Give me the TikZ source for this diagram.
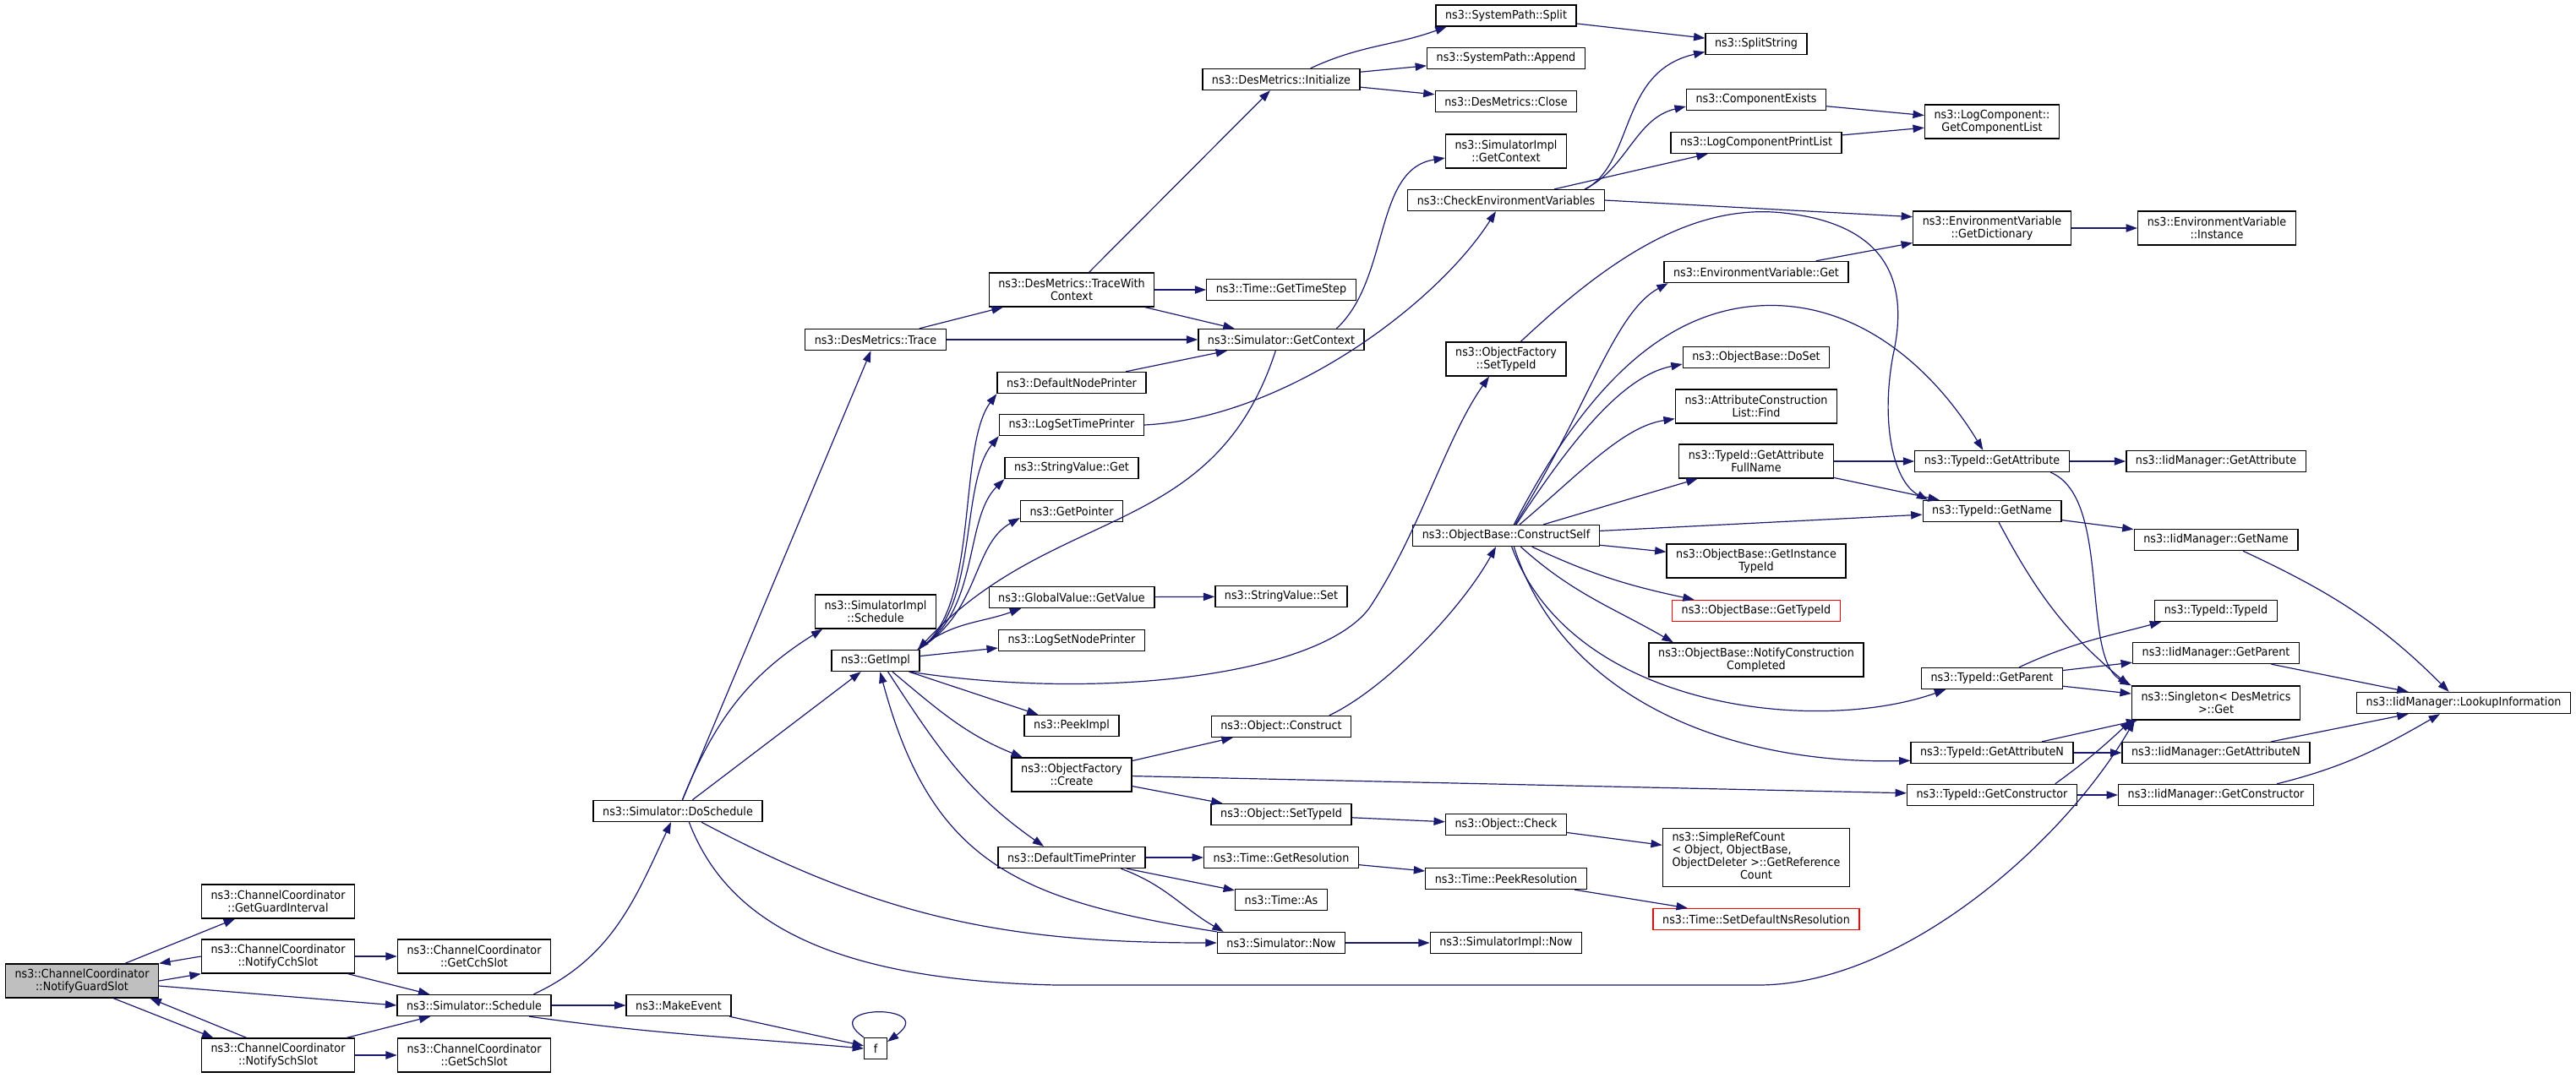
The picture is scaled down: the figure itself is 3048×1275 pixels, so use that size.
\documentclass[tikz,border=0pt]{standalone}
\usepackage{fontspec}
\setmainfont{DejaVu Sans}[FakeStretch=0.92]
\usepackage{tikz}
\usetikzlibrary{arrows.meta}
\definecolor{edgeblue}{RGB}{25,25,112}
\definecolor{rootgray}{RGB}{191,191,191}
\tikzstyle{fn} = [draw=black, line width=1pt, fill=white, inner xsep=8.3pt, inner ysep=0pt, minimum height=18.75pt, align=center, font=\fontsize{10.4}{11.3}\selectfont]
\tikzstyle{two} = [minimum height=30pt]
\tikzstyle{root} = [fill=rootgray]
\tikzstyle{trunc} = [draw=red]
\tikzstyle{call} = [draw=edgeblue, line width=0.9pt, -{Triangle[length=10pt,width=7pt]}]

\begin{document}
\begin{tikzpicture}[x=0.75pt, y=-0.75pt]
	\useasboundingbox (0,0) rectangle (3048,1275);
	\node[fn, two, root] (guard) at (97,1161) {ns3::ChannelCoordinator\\::NotifyGuardSlot};
	\node[fn, two] (guardint) at (329,1067) {ns3::ChannelCoordinator\\::GetGuardInterval};
	\node[fn, two] (cch) at (329,1132) {ns3::ChannelCoordinator\\::NotifyCchSlot};
	\node[fn, two] (sch) at (329,1249) {ns3::ChannelCoordinator\\::NotifySchSlot};
	\node[fn, two] (getcch) at (561,1132) {ns3::ChannelCoordinator\\::GetCchSlot};
	\node[fn, two] (getsch) at (561,1249) {ns3::ChannelCoordinator\\::GetSchSlot};
	\node[fn] (sched) at (561,1190) {ns3::Simulator::Schedule};
	\node[fn] (mkevent) at (803,1190) {ns3::MakeEvent};
	\node[fn] (f) at (1036,1241) {f};
	\node[fn] (dosched) at (802,960) {ns3::Simulator::DoSchedule};
	\node[fn] (trace) at (1036,402) {ns3::DesMetrics::Trace};
	\node[fn, two] (implsched) at (1036,724) {ns3::SimulatorImpl\\::Schedule};
	\node[fn] (getimpl) at (1036,782) {ns3::GetImpl};
	\node[fn, two] (tracectx) at (1268,343) {ns3::DesMetrics::TraceWith\\Context};
	\node[fn] (nodeprn) at (1268,453) {ns3::DefaultNodePrinter};
	\node[fn] (settimeprn) at (1268,503) {ns3::LogSetTimePrinter};
	\node[fn] (strget) at (1268,554) {ns3::StringValue::Get};
	\node[fn] (getptr) at (1268,605) {ns3::GetPointer};
	\node[fn] (getvalue) at (1268,707) {ns3::GlobalValue::GetValue};
	\node[fn] (setnodeprn) at (1268,758) {ns3::LogSetNodePrinter};
	\node[fn] (peekimpl) at (1268,859) {ns3::PeekImpl};
	\node[fn, two] (create) at (1268,917) {ns3::ObjectFactory\\::Create};
	\node[fn] (timeprn) at (1268,1015) {ns3::DefaultTimePrinter};
	\node[fn] (init) at (1516,94) {ns3::DesMetrics::Initialize};
	\node[fn] (timestep) at (1516,343) {ns3::Time::GetTimeStep};
	\node[fn] (simctx) at (1516,402) {ns3::Simulator::GetContext};
	\node[fn] (strset) at (1516,706) {ns3::StringValue::Set};
	\node[fn] (construct) at (1516,860) {ns3::Object::Construct};
	\node[fn] (objsettid) at (1516,964) {ns3::Object::SetTypeId};
	\node[fn] (getres) at (1516,1015) {ns3::Time::GetResolution};
	\node[fn] (timeas) at (1516,1065) {ns3::Time::As};
	\node[fn] (now) at (1516,1116) {ns3::Simulator::Now};
	\node[fn] (split) at (1782,18.5) {ns3::SystemPath::Split};
	\node[fn] (append) at (1782,69) {ns3::SystemPath::Append};
	\node[fn] (close) at (1782,120) {ns3::DesMetrics::Close};
	\node[fn, two] (implctx) at (1782,179) {ns3::SimulatorImpl\\::GetContext};
	\node[fn] (checkenv) at (1782,237) {ns3::CheckEnvironmentVariables};
	\node[fn, two] (factsettid) at (1782,425) {ns3::ObjectFactory\\::SetTypeId};
	\node[fn] (constructself) at (1782,634) {ns3::ObjectBase::ConstructSelf};
	\node[fn] (check) at (1782,976) {ns3::Object::Check};
	\node[fn] (peekres) at (1782,1040) {ns3::Time::PeekResolution};
	\node[fn] (implnow) at (1782,1116) {ns3::SimulatorImpl::Now};
	\node[fn] (splitstr) at (2078,52) {ns3::SplitString};
	\node[fn] (compexists) at (2078,118) {ns3::ComponentExists};
	\node[fn] (printlist) at (2078,169) {ns3::LogComponentPrintList};
	\node[fn] (envget) at (2078,322) {ns3::EnvironmentVariable::Get};
	\node[fn] (doset) at (2078,423) {ns3::ObjectBase::DoSet};
	\node[fn, two] (attrfind) at (2078,481) {ns3::AttributeConstruction\\List::Find};
	\node[fn, two] (attrfull) at (2078,546) {ns3::TypeId::GetAttribute\\FullName};
	\node[fn, two] (insttid) at (2078,664) {ns3::ObjectBase::GetInstance\\TypeId};
	\node[fn, trunc] (objgettid) at (2078,723) {ns3::ObjectBase::GetTypeId};
	\node[fn, two] (notifycc) at (2078,781) {ns3::ObjectBase::NotifyConstruction\\Completed};
	\node[fn, minimum height=51.75pt] (refcount) at (2078,1015) {\begin{tabular}{@{}l@{}}ns3::SimpleRefCount\\< Object, ObjectBase,\\ ObjectDeleter >::GetReference\\\multicolumn{1}{@{}c@{}}{Count}\end{tabular}};
	\node[fn, trunc] (timedefault) at (2078,1088) {ns3::Time::SetDefaultNsResolution};
	\node[fn, two] (complist) at (2357,144) {ns3::LogComponent::\\GetComponentList};
	\node[fn, two] (getdict) at (2357,270) {ns3::EnvironmentVariable\\::GetDictionary};
	\node[fn, two] (instance) at (2623,270) {ns3::EnvironmentVariable\\::Instance};
	\node[fn] (getattr) at (2357,546) {ns3::TypeId::GetAttribute};
	\node[fn] (iidattr) at (2622,546) {ns3::IidManager::GetAttribute};
	\node[fn] (getname) at (2357,605) {ns3::TypeId::GetName};
	\node[fn] (iidname) at (2622,639) {ns3::IidManager::GetName};
	\node[fn] (tidtid) at (2622,723) {ns3::TypeId::TypeId};
	\node[fn] (iidparent) at (2622,773) {ns3::IidManager::GetParent};
	\node[fn] (getparent) at (2357,803) {ns3::TypeId::GetParent};
	\node[fn, two] (singleton) at (2622,832) {ns3::Singleton< DesMetrics\\ >::Get};
	\node[fn] (lookup) at (2915,832) {ns3::IidManager::LookupInformation};
	\node[fn] (getattrn) at (2357,891) {ns3::TypeId::GetAttributeN};
	\node[fn] (iidattrn) at (2622,891) {ns3::IidManager::GetAttributeN};
	\node[fn] (getctor) at (2357,941) {ns3::TypeId::GetConstructor};
	\node[fn] (iidctor) at (2622,941) {ns3::IidManager::GetConstructor};

	\draw[call] (guard) -- (guardint);
	\draw[call] (guard.east) -- (cch.south west);
	\draw[call] (cch.west) -- (guard.north east);
	\draw[call] ([yshift=-4.5pt]guard.east) -- (sched.west);
	\draw[call] ([xshift=28pt]guard.south) -- ([xshift=11pt]sch.north west);
	\draw[call] ([xshift=-28pt]sch.north) -- ([xshift=-8pt]guard.south east);
	\draw[call] (cch) -- (getcch);
	\draw[call] (cch) -- (sched);
	\draw[call] (sch) -- (sched);
	\draw[call] (sch) -- (getsch);
	\draw[call] ([xshift=-16pt]sched.north east) to[out=25, in=-115] ([xshift=-6pt]dosched.south);
	\draw[call] (sched) -- (mkevent);
	\draw[call] ([xshift=-20pt]sched.south east) to[out=-8, in=175] (f.west);
	\draw[call] (mkevent) -- (f);
	\draw[call] (f.north west) .. controls (965,1188) and (1112,1188) .. ([yshift=6pt]f.east);

	\draw[call] (dosched) -- (trace);
	\draw[call] ([xshift=4pt]dosched.north) to[out=68, in=-148] ([xshift=7pt]implsched.south west);
	\draw[call] (dosched) -- (getimpl);
	\draw[call] ([xshift=21pt]dosched.south) to[out=-28, in=180] (now.west);
	\draw[call] ([xshift=10pt]dosched.south) .. controls (860,1090) and (980,1160) .. (1250,1166) -- (2080,1166) .. controls (2250,1166) and (2440,1000) .. ([xshift=3pt]singleton.south west);

	\draw[call] ([xshift=-2pt]getimpl.north east) .. controls (1160,725) and (1132,530) .. (nodeprn.south west);
	\draw[call] ([xshift=-2pt]getimpl.north east) .. controls (1160,725) and (1134,575) .. (settimeprn.south west);
	\draw[call] ([xshift=-2pt]getimpl.north east) .. controls (1160,725) and (1140,615) .. (strget.south west);
	\draw[call] ([xshift=-2pt]getimpl.north east) .. controls (1160,725) and (1150,645) .. ([yshift=-6pt]getptr.west);
	\draw[call] ([xshift=-2pt]getimpl.north east) to[out=40, in=-160] ([xshift=29pt]getvalue.south west);
	\draw[call] (getimpl) -- (setnodeprn);
	\draw[call] (getimpl) -- (peekimpl);
	\draw[call] ([xshift=15pt]getimpl.south) to[out=-40, in=158] ([xshift=10pt]create.north west);
	\draw[call] ([xshift=11pt]getimpl.south) to[out=-57, in=145] ([xshift=41pt]timeprn.north west);
	\draw[call] ([xshift=-9pt]getimpl.south east) .. controls (1300,830) and (1560,800) .. (1620,720) .. controls (1680,630) and (1710,520) .. ([xshift=-15pt]factsettid.south);
	\draw[call] ([xshift=-5pt]simctx.south) to[out=-108, in=47, looseness=1.1] ([xshift=-2pt]getimpl.north east);
	\draw[call] (now.north west) to[out=171, in=-75, looseness=1.2] ([xshift=4pt]getimpl.south);

	\draw[call] (trace) -- (tracectx);
	\draw[call] (trace) -- (simctx);
	\draw[call] (tracectx) -- (init);
	\draw[call] (tracectx) -- (timestep);
	\draw[call] (tracectx) -- (simctx);
	\draw[call] (nodeprn) -- (simctx);
	\draw[call] ([xshift=-25pt]simctx.north east) .. controls (1645,330) and (1625,200) .. ([yshift=-6pt]implctx.west);
	\draw[call] ([xshift=26pt]init.north) to[out=25, in=-160] ([xshift=10pt]split.south west);
	\draw[call] (init) -- (append);
	\draw[call] (init) -- (close);
	\draw[call] (split) -- (splitstr);
	\draw[call] ([xshift=-17pt]checkenv.north east) .. controls (1935,190) and (1915,85) .. ([yshift=-7pt]splitstr.west);
	\draw[call] ([xshift=-18pt]checkenv.north east) .. controls (1925,200) and (1935,140) .. ([yshift=-6pt]compexists.west);
	\draw[call] (checkenv) -- (printlist);
	\draw[call] (checkenv.east) -- ([yshift=10pt]getdict.west);
	\draw[call] (compexists) -- (complist);
	\draw[call] (printlist) -- (complist);
	\draw[call] (getdict) -- (instance);
	\draw[call] (settimeprn.east) .. controls (1520,495) and (1700,360) .. ([xshift=-9pt]checkenv.south);
	\draw[call] (envget) -- (getdict);
	\draw[call] ([xshift=13pt]factsettid.north) .. controls (1900,310) and (2000,240) .. (2110,252) .. controls (2230,265) and (2260,330) .. (2240,420) .. controls (2225,500) and (2240,570) .. ([xshift=5pt]getname.north west);

	\draw[call] ([xshift=8pt]constructself.north) .. controls (1880,480) and (1910,370) .. ([xshift=4pt]envget.south west);
	\draw[call] ([xshift=7pt]constructself.north) .. controls (1870,470) and (1960,370) .. (2080,362) .. controls (2200,354) and (2290,440) .. ([xshift=-8pt]getattr.north);
	\draw[call] ([xshift=9pt]constructself.north) .. controls (1860,520) and (1920,445) .. ([yshift=-6pt]doset.west);
	\draw[call] ([xshift=12pt]constructself.north) .. controls (1870,560) and (1920,505) .. ([yshift=-11pt]attrfind.west);
	\draw[call] (constructself) -- (attrfull);
	\draw[call] (constructself) -- (getname);
	\draw[call] (constructself) -- (insttid);
	\draw[call] ([xshift=23pt]constructself.south) to[out=-25, in=168] ([xshift=20pt]objgettid.north west);
	\draw[call] ([xshift=13pt]constructself.south) to[out=-42, in=150] ([xshift=22pt]notifycc.north west);
	\draw[call] ([xshift=5pt]constructself.south) .. controls (1860,840) and (2150,870) .. ([xshift=22pt]getparent.south west);
	\draw[call] ([xshift=7pt]constructself.south) .. controls (1850,830) and (2050,905) .. ([yshift=-7pt]getattrn.west);
	\draw[call] ([xshift=-20pt]construct.north east) .. controls (1640,815) and (1730,720) .. ([xshift=-9pt]constructself.south);

	\draw[call] (attrfull) -- (getattr);
	\draw[call] (attrfull) -- (getname);
	\draw[call] (getattr) -- (iidattr);
	\draw[call] ([xshift=52pt]getattr.south) .. controls (2500,590) and (2460,780) .. (singleton.north west);
	\draw[call] (getname) -- (iidname);
	\draw[call] ([xshift=6pt]getname.south) to[out=-62, in=140] ([xshift=-2pt]singleton.north west);
	\draw[call] ([xshift=24pt]iidname.south) to[out=-25, in=135] ([xshift=-13pt]lookup.north);
	\draw[call] ([xshift=24pt]getparent.north) to[out=25, in=-165] ([xshift=6pt]tidtid.south west);
	\draw[call] (getparent) -- (iidparent);
	\draw[call] (getparent) -- (singleton);
	\draw[call] (iidparent) -- (lookup);
	\draw[call] (getattrn) -- (singleton);
	\draw[call] (getattrn) -- (iidattrn);
	\draw[call] (iidattrn) -- (lookup);
	\draw[call] ([xshift=56pt]getctor.north) to[out=36, in=-137] (singleton.south west);
	\draw[call] (getctor) -- (iidctor);
	\draw[call] ([xshift=54pt]iidctor.north) to[out=14, in=-150] ([xshift=-21pt]lookup.south);

	\draw[call] (create) -- (construct);
	\draw[call] (create) -- (getctor);
	\draw[call] (create) -- (objsettid);
	\draw[call] (objsettid) -- (check);
	\draw[call] (check) -- (refcount);
	\draw[call] (getvalue) -- (strset);
	\draw[call] (timeprn) -- (getres);
	\draw[call] (timeprn) -- (timeas);
	\draw[call] ([xshift=-22pt]timeprn.south east) to[out=-20, in=150] ([xshift=6pt]now.north west);
	\draw[call] (getres) -- (peekres);
	\draw[call] (peekres) -- (timedefault);
	\draw[call] (now) -- (implnow);
\end{tikzpicture}
\end{document}
